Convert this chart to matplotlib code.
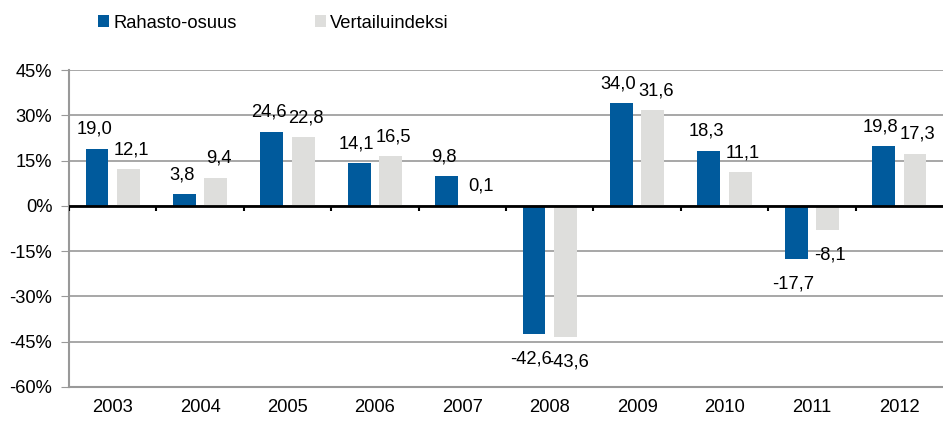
import numpy as np
import matplotlib.pyplot as plt

plt.rcParams['font.family'] = ['Liberation Sans', 'DejaVu Sans']

# data
vuodet = ['2003', '2004', '2005', '2006', '2007', '2008', '2009', '2010', '2011', '2012']
rahasto = [19.0, 3.8, 24.6, 14.1, 9.8, -42.6, 34.0, 18.3, -17.7, 19.8]
vertailu = [12.1, 9.4, 22.8, 16.5, 0.1, -43.6, 31.6, 11.1, -8.1, 17.3]
y_ticks = [-60, -45, -30, -15, 0, 15, 30, 45]

sininen = '#005a9c'
harmaa = '#dededc'
fs = 13.2

fig = plt.figure(figsize=(9.43, 4.22), dpi=100)
ax = fig.add_axes([0.0732, 0.083, 0.9268, 0.751])

x = np.arange(len(vuodet))
w = 0.26
b1 = ax.bar(x - 0.18, rahasto, w, color=sininen, label='Rahasto-osuus', zorder=3)
b2 = ax.bar(x + 0.18, vertailu, w, color=harmaa, label='Vertailuindeksi', zorder=3)

# arvot palkkien päälle / alle
def fmt(v):
    return f'{v:.1f}'.replace('.', ',')

for bars, vals, dx in ((b1, rahasto, -2), (b2, vertailu, 2)):
    for r, v in zip(bars, vals):
        off = 14 if v >= 0 else -18
        ax.annotate(fmt(v), (r.get_x() + r.get_width() / 2, v),
                    xytext=(dx, off), textcoords='offset points',
                    ha='center', va='center', fontsize=fs, zorder=5)

ax.set_xlim(-0.5, len(vuodet) - 0.5)
ax.set_ylim(-60, 45)
ax.set_yticks(y_ticks)
ax.set_yticklabels([f'{t}%' for t in y_ticks], fontsize=fs)
ax.set_xticks(x)
ax.set_xticklabels(vuodet, fontsize=fs)
ax.tick_params(axis='x', length=0, pad=9)
ax.tick_params(axis='y', length=6, color='#999999', pad=6)

ax.grid(axis='y', color='#a0a0a0', linewidth=1.3, zorder=0)
for s in ['top', 'right']:
    ax.spines[s].set_visible(False)
ax.spines['left'].set_color('#999999')
ax.spines['left'].set_linewidth(1.5)
ax.spines['bottom'].set_color('#999999')
ax.spines['bottom'].set_linewidth(1.5)

# nollaviiva ja väliviivat
ax.axhline(0, color='black', linewidth=2, zorder=4)
rajat = np.arange(len(vuodet)) - 0.5
ax.vlines(rajat, -1.6, 0, color='black', linewidth=1.5, zorder=4)

fig.legend(loc='center', bbox_to_anchor=(0.29, 0.945), ncol=2, frameon=False,
           fontsize=fs, handlelength=0.6, handleheight=0.6,
           handletextpad=0.2, columnspacing=4.3)

fig.savefig('out.png', dpi=100)
